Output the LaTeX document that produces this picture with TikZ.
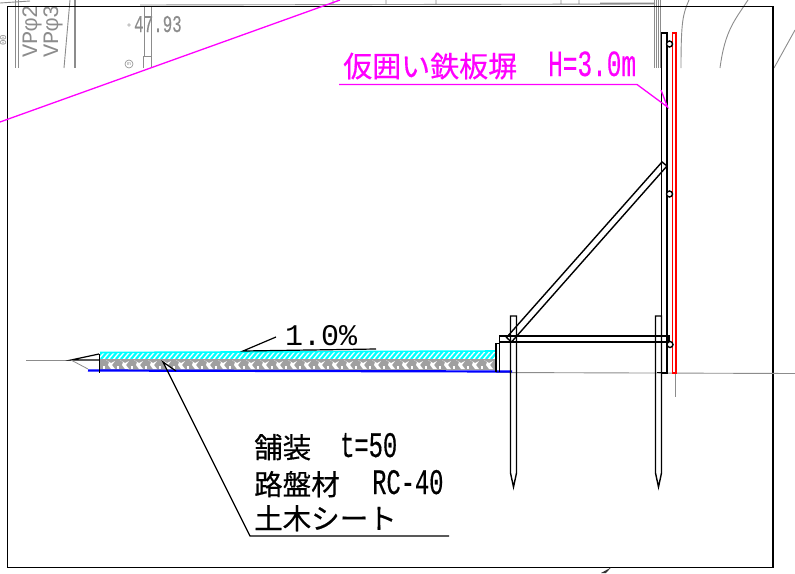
\documentclass[tikz,border=0pt]{standalone}
\usepackage{fontspec}
\setmainfont{Liberation Sans}
\newfontfamily\jpfont[FakeBold=0.4]{Noto Sans CJK JP}
\newfontfamily\cadfont[FakeStretch=0.66,FakeBold=0.3]{Liberation Mono}
\newfontfamily\cadwide{Liberation Mono}
\newcommand{\sized}[1]{\fontsize{#1}{#1}\selectfont}
\definecolor{wallred}{RGB}{255,0,0}
\definecolor{notemag}{RGB}{255,0,255}
\definecolor{padcyan}{RGB}{0,255,255}
\definecolor{sheetblue}{RGB}{0,0,255}
\definecolor{bgline}{RGB}{140,140,140}
\definecolor{gravel}{RGB}{160,160,160}
\tikzset{
    steel/.style = {draw = black, line width = 1.4pt},
    bgdraw/.style = {bgline, line width = 0.9pt},
    bgnote/.style = {text = bgline, inner sep = 0pt},
    memo/.style = {anchor = base west, inner sep = 0pt},
    leader/.style = {black, line width = 1.2pt}
}
\begin{document}
\begin{tikzpicture}[x = 1pt, y = -1pt, line join = miter]
    \useasboundingbox (0, 0) rectangle (795, 573);
    \fill[white] (0, 0) rectangle (795, 573);

    % background plan, grey
    \draw[bgdraw] (15, 0) -- (15, 68);
    \draw[bgdraw] (18, 0) -- (18, 68);
    \draw[bgdraw] (70, 0) -- (64, 68);
    \draw[bgdraw, line width = 1.6pt] (75, 0) -- (75, 68);
    \draw[bgdraw] (144, 6) -- (144, 56) (151, 6) -- (151, 68) (143, 68) -- (143, 56) -- (151, 56);
    \draw[bgdraw] (0, 3) -- (30, 1) (140, 5) -- (655, 4) (333, 0) -- (333, 4) (386, 0) -- (386, 4)
        (436, 0) -- (436, 4) (561, 0) -- (561, 4) (579, 0) -- (579, 4) (600, 3) -- (655, 3);
    \foreach \xline in {654, 656, 658, 660}
        \draw[bgdraw] (\xline, 0) -- (\xline, 68);
    \draw[bgdraw] (689, 0) .. controls (683, 14) and (681, 20) .. (681, 68);
    \draw[bgdraw] (748, 0) .. controls (735, 20) and (725, 30) .. (720, 68);
    \draw[bgdraw] (795, 30) -- (774, 68);
    \node[bgnote, rotate = 90, anchor = base west] (vpone) at (37, 58) {\cadwide\sized{22}VPφ2};
    \node[bgnote, rotate = 90, anchor = base west] (vptwo) at (58, 58) {\cadwide\sized{22}VPφ3};
    \node[bgnote, rotate = 90, anchor = base] (edge) at (6, 40) {\cadwide\sized{9}00};
    \node[bgnote, anchor = base west] (level) at (134, 32) {\cadfont\sized{24}47.93};
    \fill[bgline!50] (129, 25) circle (1.8);
    \node[bgnote, draw = bgline, circle, line width = 0.6pt, minimum size = 8pt] (mark) at (129, 64) {\sized{5}m};

    % frame
    \draw[black, line width = 1.4pt] (7.5, 6.5) rectangle (773, 567.5);
    \fill[black!80] (601, 573) -- (611, 567.5) -- (606, 573) -- cycle;

    % magenta route across the sheet
    \draw[notemag, line width = 1.3pt] (0, 122) -- (340, 0);

    % ground
    \draw[bgline, line width = 0.9pt] (26, 360) -- (72, 360);
    \draw[bgline, line width = 0.9pt] (496, 372.5) -- (795, 373.5);
    \draw[bgline, line width = 0.9pt] (675.5, 373) -- (675.5, 397);

    % pavement
    \begin{scope}
        \clip (100, 352) rectangle (497, 358);
        \foreach \xhatch in {96, 101, ..., 500}
            \draw[padcyan, line width = 2.2pt] (\xhatch, 359) -- (\xhatch + 7, 351);
    \end{scope}
    \draw[padcyan, line width = 1.6pt] (100, 352.5) -- (497, 351);
    \fill[gravel] (100, 358.5) rectangle (497, 370);
    \foreach \xblob in {106, 120, ..., 490} {
        \fill[white] (\xblob, 360) -- (\xblob + 3, 362) -- (\xblob + 2, 365) -- (\xblob + 5, 369)
            -- (\xblob + 9, 369) -- (\xblob + 6, 365) -- (\xblob + 9, 361) -- (\xblob + 5, 363) -- cycle;
        \fill[white] (\xblob - 3, 366) rectangle (\xblob - 1, 369);
    }
    \draw[sheetblue, line width = 2.2pt] (88, 370.5) -- (512, 371.5);

    % toe of the pavement
    \draw[black, line width = 1.2pt] (99, 354) -- (71, 360) -- (99, 360);
    \draw[bgline, line width = 0.8pt] (71, 360) -- (88, 369);
    \draw[black, line width = 1.2pt] (99.5, 354) -- (99.5, 373);

    % curb and beam
    \draw[black, line width = 1.3pt] (496, 372) -- (496, 343.5) -- (499.5, 343.5) -- (499.5, 372);
    \draw[steel] (499.5, 336) rectangle (669, 342);

    % posts
    \foreach \xpost in {510.5, 655.5}
        \draw[steel] (\xpost, 316) -- (\xpost + 6, 316) -- (\xpost + 6, 473)
            -- (\xpost + 3, 487) -- (\xpost, 473) -- cycle;

    % brace
    \draw[steel] (662, 162) -- (667, 166) -- (511.5, 342) -- (506.5, 337.5) -- cycle;

    % wall
    \draw[steel] (661.5, 33) rectangle (667, 373);
    \draw[black, line width = 1.2pt] (657, 372.5) -- (664, 372.5) (672, 373) -- (677, 373);
    \draw[wallred, line width = 1.4pt] (672.5, 33) rectangle (676, 373);
    \draw[steel, fill = white] (669.5, 44) circle (3);
    \draw[steel, fill = white] (669.5, 194) circle (3);
    \draw[steel, fill = white] (670, 344.5) circle (3);

    % notes
    \node[memo, text = notemag] (walltext) at (343, 77) {\jpfont\sized{29}仮囲い鉄板塀};
    \node[memo, text = notemag] (wallsize) at (548, 76) {\cadfont\sized{37}H=3.0m};
    \coordinate (wallstart) at (339, 84.5);
    \coordinate (wallbend) at (637, 84.5);
    \coordinate (walltip) at (667.5, 107);
    \coordinate (wallbarb) at (661, 90);
    \draw[notemag, line width = 1.3pt] (wallstart) -- (wallbend) -- (walltip) -- (wallbarb);

    \node[memo] (slopetext) at (285, 345) {\cadwide\sized{30}1.0\%};
    \coordinate (slopetip) at (243, 351);
    \coordinate (slopeend) at (276, 337);
    \coordinate (slopeline) at (376, 349);
    \draw[leader] (slopeend) -- (slopetip) -- (slopeline);

    \node[memo] (pavetext) at (254, 458) {\jpfont\sized{28.5}舗装};
    \node[memo] (pavethick) at (340, 457) {\cadfont\sized{36}t=50};
    \node[memo] (basetext) at (254, 495) {\jpfont\sized{28.5}路盤材};
    \node[memo] (basegrade) at (372, 494) {\cadfont\sized{36}RC-40};
    \node[memo] (sheettext) at (254, 529) {\jpfont\sized{28.5}土木シート};
    \coordinate (layertip) at (163, 362);
    \coordinate (layerbarb) at (176, 371);
    \coordinate (layerbend) at (250, 536);
    \coordinate (layerend) at (449, 536);
    \draw[leader] (layerbarb) -- (layertip) -- (layerbend) -- (layerend);
\end{tikzpicture}
\end{document}
